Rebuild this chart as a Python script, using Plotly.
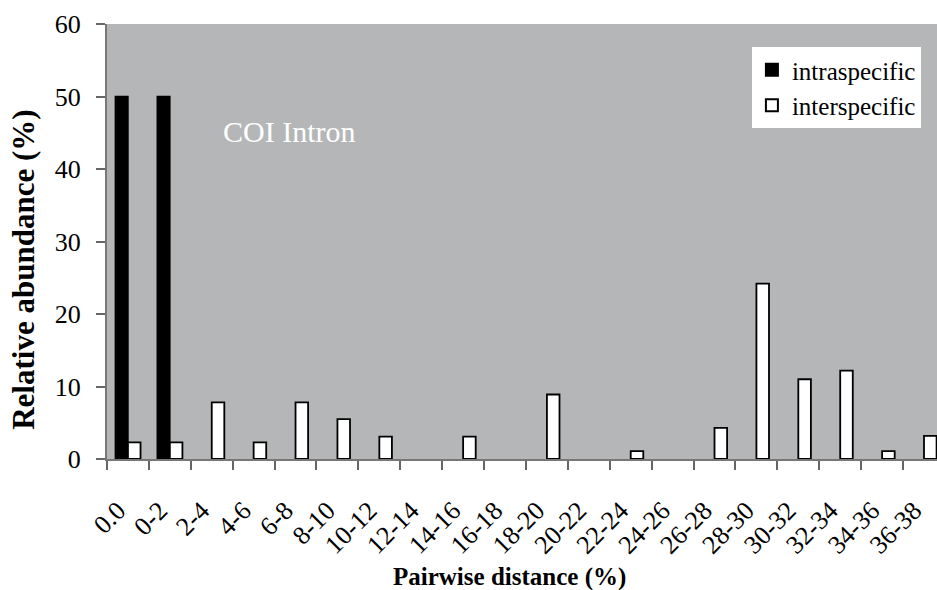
import plotly.graph_objects as go

categories = ["0.0", "0-2", "2-4", "4-6", "6-8", "8-10", "10-12", "12-14", "14-16", "16-18",
              "18-20", "20-22", "22-24", "24-26", "26-28", "28-30", "30-32", "32-34", "34-36", "36-38"]
intraspecific = [50, 50, 0, 0, 0, 0, 0, 0, 0, 0, 0, 0, 0, 0, 0, 0, 0, 0, 0, 0]
interspecific = [2.3, 2.3, 7.8, 2.3, 7.8, 5.5, 3.1, 0, 3.1, 0, 8.9, 0, 1.1, 0, 4.3, 24.2, 11.0, 12.2, 1.1, 3.2]

FONT = "Liberation Serif"

fig = go.Figure()
fig.add_trace(go.Bar(x=categories, y=intraspecific, name="intraspecific",
                     marker=dict(color="black",
                                 line=dict(color="black", width=[1.5 if v > 0 else 0 for v in intraspecific]))))
fig.add_trace(go.Bar(x=categories, y=interspecific, name="interspecific",
                     marker=dict(color="white",
                                 line=dict(color="black", width=[1.8 if v > 0 else 0 for v in interspecific]))))

fig.update_layout(
    width=937, height=590,
    margin=dict(l=107, r=0, t=24, b=131),
    paper_bgcolor="white",
    plot_bgcolor="#b4b6b7",
    barmode="group", bargap=0.4, bargroupgap=0,
    font=dict(family=FONT, color="black", size=20),
    showlegend=True,
    legend=dict(x=0.777, y=0.947, xanchor="left", yanchor="top",
                bgcolor="white", font=dict(size=25, family=FONT),
                itemsizing="constant"),
    xaxis=dict(
        range=[-0.5, 19.31], type="category", automargin=False,
        tickangle=-45, tickfont=dict(size=26, family=FONT),
        ticks="outside", tickson="boundaries", ticklen=9, tickcolor="#666", tickwidth=1.5,
        showline=True, linecolor="#777", linewidth=2,
        showgrid=False, zeroline=False,
        ticklabelstandoff=24, ticklabelshift=-10,
    ),
    yaxis=dict(
        range=[0, 60], tickvals=[0, 10, 20, 30, 40, 50, 60], automargin=False,
        tickfont=dict(size=26, family=FONT),
        ticks="outside", ticklen=9, tickcolor="#666", tickwidth=1.5,
        showline=True, linecolor="#777", linewidth=2,
        showgrid=False, zeroline=False,
        ticklabelstandoff=10,
    ),
)

fig.add_annotation(text="<b>Pairwise distance (%)</b>", xref="paper", yref="paper",
                   x=0.4855, y=-0.271, xanchor="center", yanchor="middle", showarrow=False,
                   font=dict(size=25, family=FONT, color="black"))
fig.add_annotation(text="<b>Relative abundance (%)</b>", xref="paper", yref="paper",
                   x=-0.1, y=0.435, xanchor="center", yanchor="middle", showarrow=False,
                   textangle=-90, font=dict(size=31, family=FONT, color="black"))
fig.add_annotation(text="COI Intron", xref="paper", yref="paper", x=0.137, y=0.752,
                   xanchor="left", yanchor="middle", showarrow=False,
                   font=dict(size=30, color="white", family=FONT))

fig.write_html("out.html")
